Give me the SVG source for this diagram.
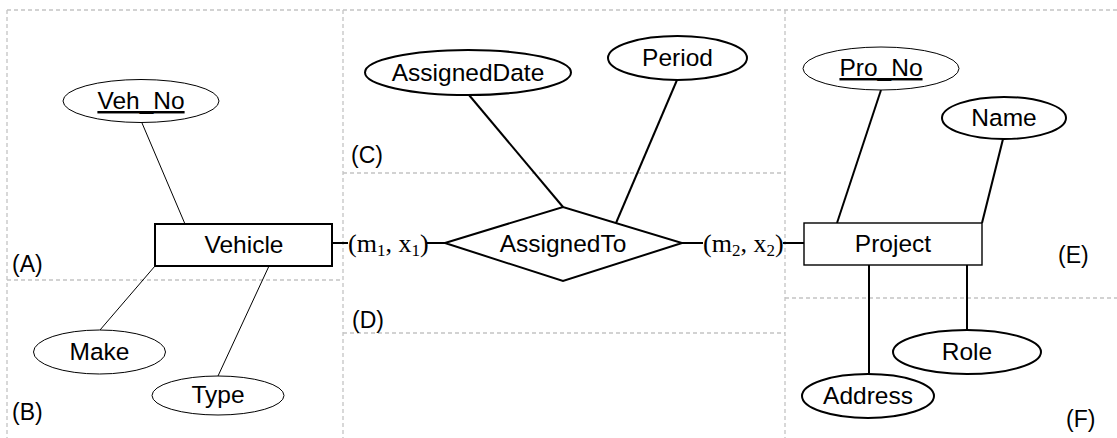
<svg xmlns="http://www.w3.org/2000/svg" width="1117" height="438" viewBox="0 0 1117 438">
<style>
.grid{stroke:#c4c4c4;stroke-width:1.3;stroke-dasharray:4,3;fill:none}
.thin{stroke:#000;stroke-width:1;fill:#fff}
.thick{stroke:#000;stroke-width:2;fill:#fff}
.ln1{stroke:#000;stroke-width:1;fill:none}
.ln2{stroke:#000;stroke-width:2;fill:none}
.t{font-family:"Liberation Sans",Arial,sans-serif;font-size:24.5px;fill:#000;text-anchor:middle}
.lbl{font-family:"Liberation Sans",Arial,sans-serif;font-size:23px;fill:#000}
.card{font-family:"Liberation Serif","Times New Roman",serif;font-size:26px;fill:#000}
.sub{font-size:17px}
.u{text-decoration:underline}
</style>
<g id="grid">
<path class="grid" d="M7,10 H1117 M7,10 V438 M343,10 V438 M785,10 V438 M7,280 H343 M343,173 H785 M343,333 H785 M785,298 H1117"/>
</g>
<g id="regions">
<text class="lbl" x="12" y="272">(A)</text>
<text class="lbl" x="12" y="420">(B)</text>
<text class="lbl" x="351" y="163">(C)</text>
<text class="lbl" x="352" y="328">(D)</text>
<text class="lbl" x="1058" y="263">(E)</text>
<text class="lbl" x="1066" y="427">(F)</text>
</g>
<g id="connectors">
<line class="ln1" x1="142" y1="123" x2="185" y2="224"/>
<line class="ln1" x1="155" y1="266" x2="100" y2="330"/>
<line class="ln1" x1="269" y1="266" x2="218" y2="376"/>
<line class="ln2" x1="469" y1="95" x2="563" y2="207"/>
<line class="ln2" x1="677" y1="80" x2="616" y2="223"/>
<line class="ln2" x1="881" y1="90" x2="837" y2="223"/>
<line class="ln2" x1="1003" y1="139" x2="982" y2="223"/>
<line class="ln2" x1="967" y1="265" x2="967" y2="330"/>
<line class="ln2" x1="869" y1="265" x2="869" y2="374"/>
<line class="ln2" x1="332" y1="243" x2="348" y2="243"/>
<line class="ln2" x1="427" y1="243" x2="445" y2="243"/>
<line class="ln2" x1="682" y1="243" x2="703" y2="243"/>
<line class="ln2" x1="783" y1="243" x2="804" y2="243"/>
<text class="card" x="348" y="252">(m<tspan class="sub" dy="4">1</tspan><tspan dy="-4">, x</tspan><tspan class="sub" dy="4">1</tspan><tspan dy="-4">)</tspan></text>
<text class="card" x="703" y="252">(m<tspan class="sub" dy="4">2</tspan><tspan dy="-4">, x</tspan><tspan class="sub" dy="4">2</tspan><tspan dy="-4">)</tspan></text>
</g>
<g id="vehicle">
<rect class="thick" x="155" y="224" width="177" height="42"/>
<text class="t" x="244" y="253">Vehicle</text>
</g>
<g id="veh_no">
<ellipse class="thin" cx="141" cy="101" rx="78" ry="21.5"/>
<text class="t u" x="141" y="109">Veh_No</text>
</g>
<g id="make">
<ellipse class="thin" cx="99.5" cy="352" rx="66" ry="22"/>
<text class="t" x="99.5" y="360">Make</text>
</g>
<g id="type">
<ellipse class="thin" cx="218" cy="395.5" rx="66" ry="19.5"/>
<text class="t" x="218" y="403">Type</text>
</g>
<g id="assignedto">
<polygon class="thick" points="445,243 563,207 682,243 563,281"/>
<text class="t" x="563" y="252">AssignedTo</text>
</g>
<g id="assigneddate">
<ellipse class="thick" cx="468" cy="72.5" rx="103" ry="22.5"/>
<text class="t" x="468" y="81">AssignedDate</text>
</g>
<g id="period">
<ellipse class="thick" cx="677.5" cy="58" rx="69.5" ry="22"/>
<text class="t" x="677.5" y="66">Period</text>
</g>
<g id="project">
<rect class="thin" style="stroke-width:1.4" x="804" y="223" width="178" height="42"/>
<text class="t" x="893" y="252">Project</text>
</g>
<g id="pro_no">
<ellipse class="thin" cx="881" cy="68.5" rx="78" ry="21.5"/>
<text class="t u" x="881" y="76">Pro_No</text>
</g>
<g id="name">
<ellipse class="thick" cx="1004" cy="118" rx="62" ry="21"/>
<text class="t" x="1004" y="126">Name</text>
</g>
<g id="role">
<ellipse class="thick" cx="967" cy="352" rx="74" ry="22"/>
<text class="t" x="967" y="360">Role</text>
</g>
<g id="address">
<ellipse class="thick" cx="868" cy="396" rx="66" ry="22"/>
<text class="t" x="868" y="404">Address</text>
</g>
</svg>
